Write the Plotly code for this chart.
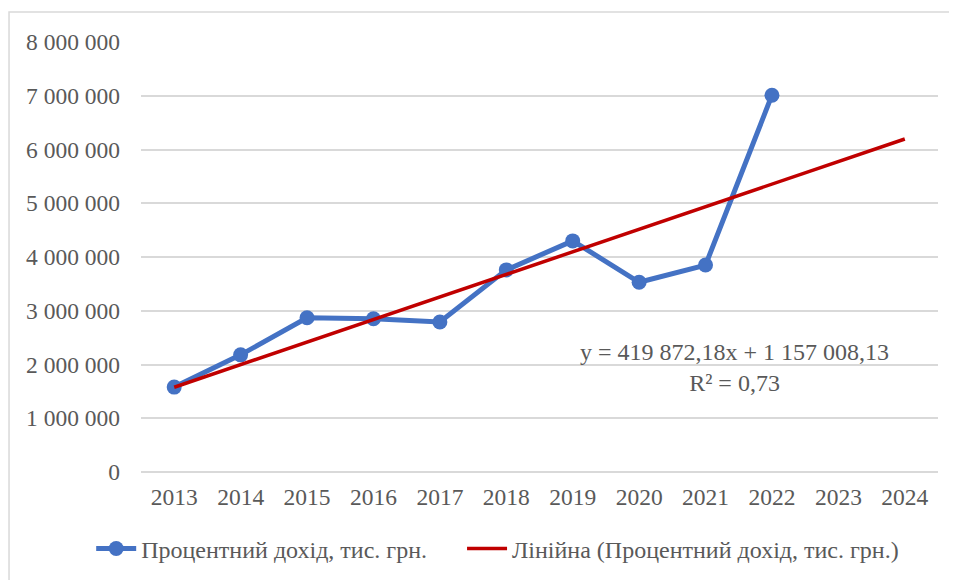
import plotly.graph_objects as go

years = ['2013', '2014', '2015', '2016', '2017', '2018', '2019', '2020', '2021', '2022', '2023', '2024']
income = [1580000, 2180000, 2870000, 2850000, 2790000, 3760000, 4300000, 3530000, 3850000, 7010000]
trend_slope = 419872.18
trend_intercept = 1157008.13
trend_label = 'y = 419 872,18x + 1 157 008,13<br>R² = 0,73'

x_income = list(range(1, len(income) + 1))
x_trend = [1, len(years)]
y_trend = [trend_slope * x + trend_intercept for x in x_trend]

serif = 'Times New Roman, Liberation Serif, serif'
font_tick = dict(family=serif, size=23.5, color='#595959')
font_legend = dict(family=serif, size=24, color='#595959')

fig = go.Figure()
fig.add_trace(go.Scatter(
    x=x_income, y=income,
    mode='lines+markers',
    # trailing nbsp widen the gap between legend entries
    name='Процентний дохід, тис. грн.' + '\u00a0' * 5,
    line=dict(color='#4472C4', width=5),
    marker=dict(color='#4472C4', size=15)
))
fig.add_trace(go.Scatter(
    x=x_trend, y=y_trend,
    mode='lines',
    name='Лінійна (Процентний дохід, тис. грн.)',
    line=dict(color='#C00000', width=3.5)
))

fig.add_annotation(
    x=9.43, y=1950000, xref='x', yref='y',
    text=trend_label, showarrow=False, align='center',
    font=dict(family=serif, size=24, color='#595959')
)

# chart border (Excel-style frame)
fig.add_shape(
    type='rect', xref='paper', yref='paper',
    x0=-0.1656, x1=1.2, y0=-0.5, y1=1.0698,
    line=dict(color='#D9D9D9', width=1.5)
)

fig.update_xaxes(
    range=[0.5, len(years) + 0.5],
    tickmode='array', tickvals=list(range(1, len(years) + 1)), ticktext=years,
    showgrid=False, zeroline=False, showline=False,
    ticks='', ticklabelstandoff=8,
    tickfont=font_tick
)
fig.update_yaxes(
    range=[0, 8000000], dtick=1000000,
    tickformat=',.0f',
    showgrid=True, gridcolor='#D9D9D9', gridwidth=1.5,
    zeroline=True, zerolinecolor='#D9D9D9', zerolinewidth=1.5,
    showline=False, ticks='', ticklabelstandoff=20,
    tickfont=font_tick
)

fig.update_layout(
    width=957, height=580,
    separators=', ',
    plot_bgcolor='white', paper_bgcolor='white',
    margin=dict(l=133, r=27, t=34, b=116),
    font=font_tick,
    showlegend=True,
    legend=dict(
        orientation='h', x=-0.0625, xanchor='left', y=-0.179, yanchor='middle',
        font=font_legend, itemwidth=40
    )
)

fig.write_html('out.html')
